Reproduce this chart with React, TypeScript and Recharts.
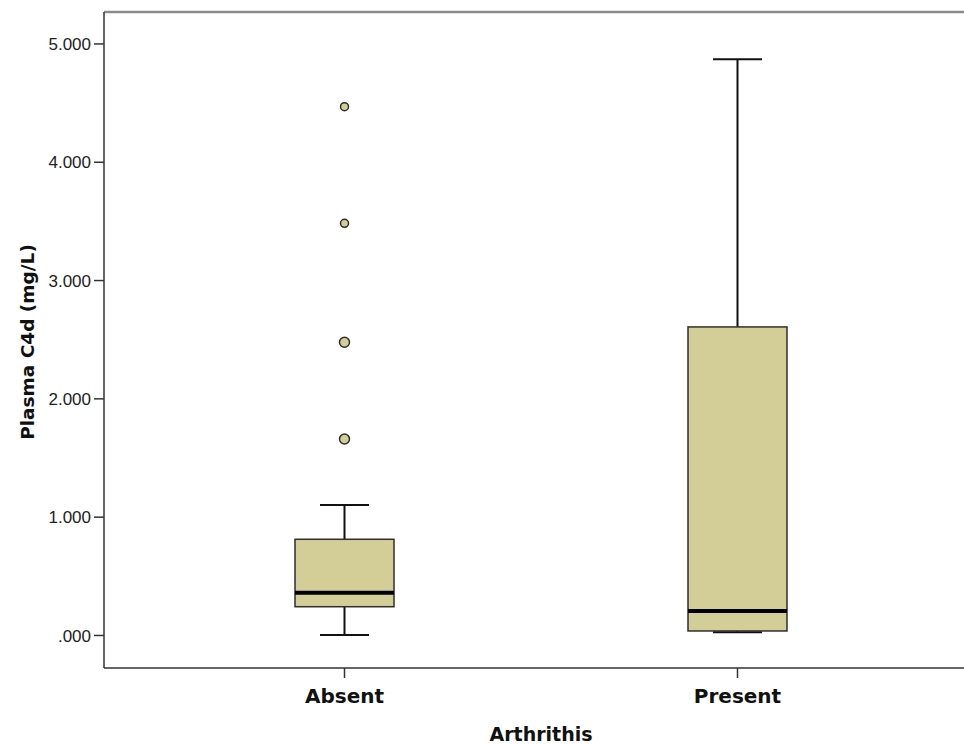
import { ComposedChart, Bar, Scatter, XAxis, YAxis, ReferenceLine } from 'recharts';

// Box plot values (mg/L)
const groups = ['Absent', 'Present'];
const whiskerLow = [0.004, 0.027];
const quartile1 = [0.243, 0.038];
const medians = [0.362, 0.207];
const quartile3 = [0.813, 2.608];
const whiskerHigh = [1.103, 4.87];

const outlierGroup = ['Absent', 'Absent', 'Absent', 'Absent'];
const outlierValues = [4.47, 3.484, 2.478, 1.661];
const outlierSize = [4, 4, 5, 5];

const yTicks = [0, 1, 2, 3, 4, 5];
const yDomain: [number, number] = [-0.275, 5.27];

const boxFill = '#d3ce98';
const edge = '#2e2e2e';

const data = groups.map((name, i) => ({
  name,
  range: [whiskerLow[i], whiskerHigh[i]],
  q1: quartile1[i],
  median: medians[i],
  q3: quartile3[i],
}));

const outliers = outlierValues.map((v, i) => ({ name: outlierGroup[i], v, r: outlierSize[i] }));

const fmt = (v: number) => (v === 0 ? '.000' : v.toFixed(3));

const BoxShape = (props: any) => {
  const { x, y, width, height, payload } = props;
  const lo = payload.range[0];
  const hi = payload.range[1];
  // map a value onto the bar's own pixel span (bar runs from hi at y to lo at y+height)
  const py = (v: number) => y + ((hi - v) / (hi - lo)) * height;
  const cx = x + width / 2;
  const cap = 49;
  const top = py(payload.q3);
  const bottom = py(payload.q1);
  const med = py(payload.median);
  return (
    <g>
      <line x1={cx} x2={cx} y1={y} y2={y + height} stroke="#111" strokeWidth={2} />
      <line x1={cx - cap / 2} x2={cx + cap / 2} y1={y} y2={y} stroke="#111" strokeWidth={2} />
      <line x1={cx - cap / 2} x2={cx + cap / 2} y1={y + height} y2={y + height} stroke="#111" strokeWidth={2} />
      <rect x={x} y={top} width={width} height={bottom - top} fill={boxFill} stroke={edge} strokeWidth={1.5} />
      <line x1={x} x2={x + width} y1={med} y2={med} stroke="#000" strokeWidth={4} />
    </g>
  );
};

const Dot = (props: any) => {
  const { cx, cy, payload } = props;
  return <circle cx={cx} cy={cy} r={payload.r} fill={boxFill} stroke={edge} strokeWidth={1.5} />;
};

const titleFont = { fontFamily: 'DejaVu Sans', fontWeight: 'bold' as const, fill: '#111' };

const YTitle = () => (
  <text x={27} y={342} transform="rotate(-90 27 342)" textAnchor="middle" dominantBaseline="central" fontSize={18.5} {...titleFont}>
    Plasma C4d (mg/L)
  </text>
);

const XTitle = () => (
  <text x={541} y={741} textAnchor="middle" fontSize={19} {...titleFont}>
    Arthrithis
  </text>
);

export default function App() {
  return (
    <div style={{ position: 'absolute', left: 0, top: 0, width: 964, height: 745, background: '#fff' }}>
      <ComposedChart
        width={964}
        height={745}
        data={data}
        margin={{ top: 12, right: 0, left: 0, bottom: 0 }}
        accessibilityLayer={false}
        style={{ outline: 'none' }}
      >
        <XAxis
          dataKey="name"
          type="category"
          allowDuplicatedCategory={false}
          padding={{ left: 44, right: 30 }}
          height={77}
          stroke="#333"
          strokeWidth={1.5}
          tickSize={10}
          tickMargin={11}
          tick={{ fill: '#111', fontSize: 20, fontFamily: 'DejaVu Sans', fontWeight: 'bold' }}
          label={{ content: <XTitle /> }}
        />
        <YAxis
          type="number"
          domain={yDomain}
          allowDataOverflow
          ticks={yTicks}
          width={104}
          stroke="#333"
          strokeWidth={1.5}
          tickSize={10}
          tickMargin={3}
          tickFormatter={fmt}
          tick={{ fill: '#222', fontSize: 17, fontFamily: 'Liberation Sans' }}
          label={{ content: <YTitle /> }}
        />
        <ReferenceLine y={yDomain[1]} stroke="#8a8a8a" strokeWidth={2.5} ifOverflow="visible" />
        <Bar dataKey="range" barSize={99} shape={<BoxShape />} isAnimationActive={false} />
        <Scatter data={outliers} dataKey="v" shape={<Dot />} isAnimationActive={false} />
      </ComposedChart>
    </div>
  );
}
